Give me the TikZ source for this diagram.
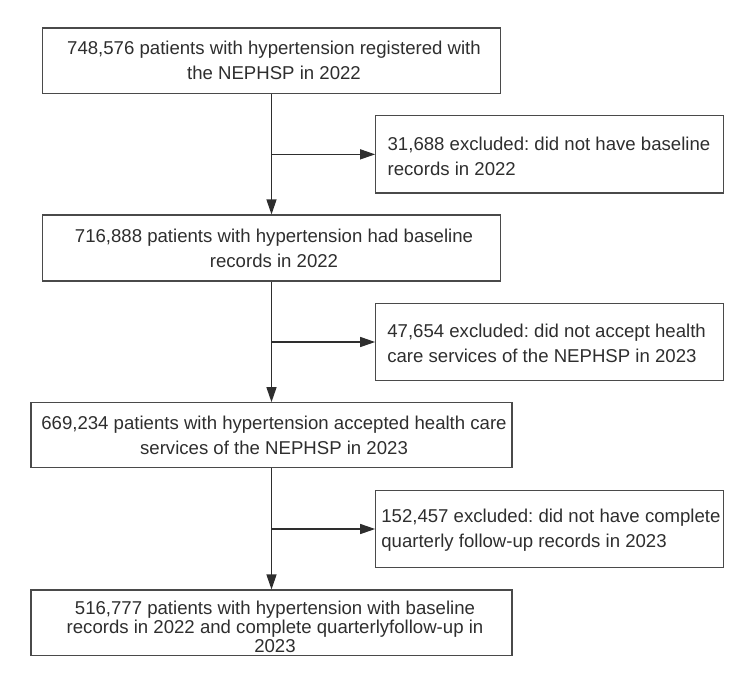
\documentclass[tikz,border=0pt]{standalone}
\usepackage{fontspec}
\setmainfont{Liberation Sans}
\usetikzlibrary{arrows.meta}
\definecolor{ink}{HTML}{2E2E2E}
\definecolor{edge}{HTML}{4A4A4A}
\tikzset{
  box/.style={draw=edge, line width=1.1pt, text=ink, inner sep=0pt,
    font=\fontsize{18.6}{25}\selectfont},
  mainbox/.style={box, align=center},
  sidebox/.style={box, minimum width=347.6pt, minimum height=77.3pt},
  sidetext/.style={anchor=west, text=ink, inner sep=0pt, align=left,
    font=\fontsize{18.6}{25}\selectfont},
  flow/.style={draw=ink, line width=1.3pt, -{Triangle[length=15pt,width=10pt]}}
}
\begin{document}
\frenchspacing
\begin{tikzpicture}[x=1pt,y=-1pt]
\useasboundingbox (0,0) rectangle (754,683);
\node[mainbox, minimum width=457.3pt, minimum height=65.3pt] (b1) at (271.5,60.65)
  {\hspace*{5pt}748,576 patients with hypertension registered with\\\hspace*{5pt}the NEPHSP in 2022};
\node[sidebox] (b2) at (549.5,154.35) {};
\node[sidetext] (t2) at ([xshift=12.3pt,yshift=-1.5pt]b2.west)
  {31,688 excluded: did not have baseline\\records in 2022};
\node[mainbox, minimum width=457.3pt, minimum height=66pt] (b3) at (271.5,248)
  {\hspace*{5pt}716,888 patients with hypertension had baseline\\\hspace*{5pt}records in 2022};
\node[sidebox] (b4) at (549.5,342) {};
\node[sidetext] (t4) at ([xshift=12pt,yshift=-1.5pt]b4.west)
  {47,654 excluded: did not accept health\\care services of the NEPHSP in 2023};
\node[mainbox, minimum width=481pt, minimum height=65pt] (b5) at (271.5,435.2)
  {\hspace*{5pt}669,234 patients with hypertension accepted health care\\\hspace*{5pt}services of the NEPHSP in 2023};
\node[sidebox] (b6) at (549.5,529) {};
\node[sidetext] (t6) at ([xshift=6pt,yshift=-1.5pt]b6.west)
  {152,457 excluded: did not have complete\\quarterly follow-up records in 2023};
\node[mainbox, minimum width=481pt, minimum height=65.3pt] (b7) at (271.5,622.65) {};
\node[text=ink, font=\fontsize{18.6}{18.7}\selectfont, align=center, inner sep=0pt] (t7) at (275,627)
  {516,777 patients with hypertension with baseline\\records in 2022 and complete quarterlyfollow-up in\\2023};
\draw[flow] (b1.south) -- (b3.north);
\draw[flow] (b3.south) -- (b5.north);
\draw[flow] (b5.south) -- (b7.north);
\coordinate (j1) at (b1.south |- b2.west);
\coordinate (j2) at (b3.south |- b4.west);
\coordinate (j3) at (b5.south |- b6.west);
\draw[flow] (j1) -- (b2.west);
\draw[flow] (j2) -- (b4.west);
\draw[flow] (j3) -- (b6.west);
\end{tikzpicture}
\end{document}
